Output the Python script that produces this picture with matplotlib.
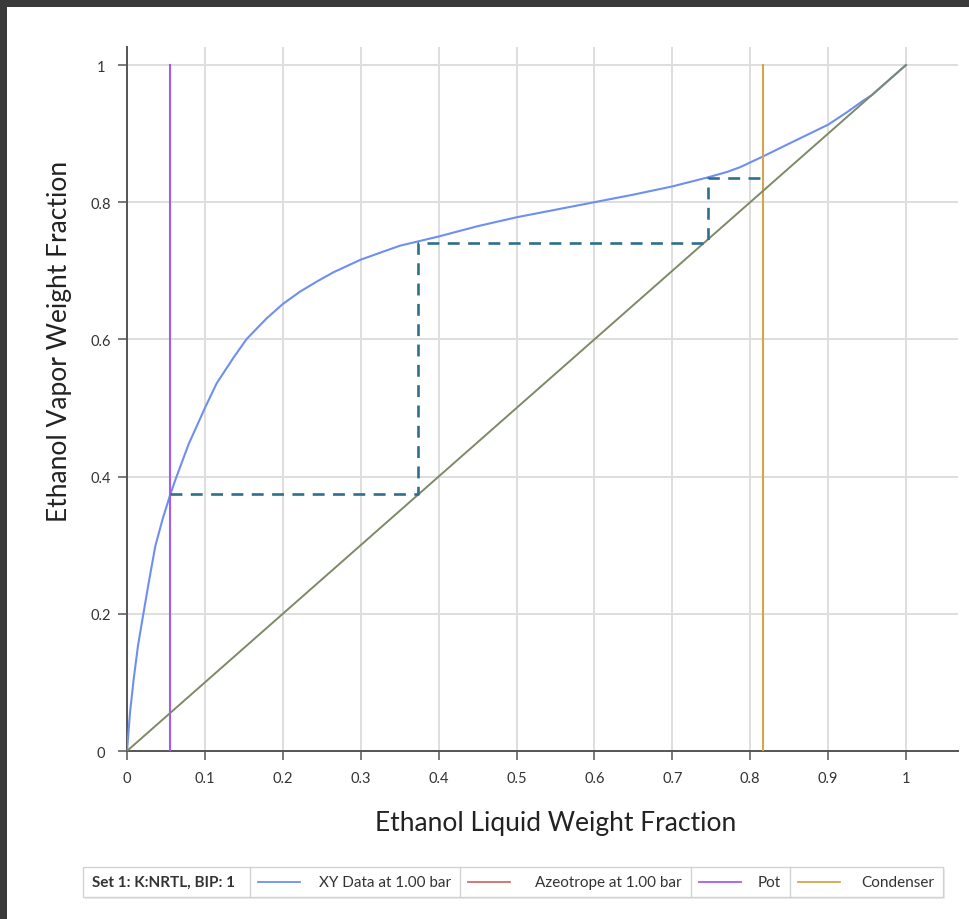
import matplotlib
matplotlib.use("Agg")
import matplotlib.pyplot as plt
from matplotlib.patches import Rectangle
from matplotlib.lines import Line2D

# ---- data ----
liquid_x = [0.0, 0.0039, 0.0086, 0.0141, 0.021, 0.0287, 0.0364, 0.0462, 0.0556,
            0.062, 0.079, 0.1, 0.1151, 0.1365, 0.1536, 0.1793, 0.2, 0.2221, 0.2435,
            0.2649, 0.3, 0.329, 0.3505, 0.4, 0.45, 0.5, 0.55, 0.6, 0.65, 0.7, 0.745,
            0.77, 0.787, 0.817, 0.851, 0.9, 0.924, 0.945, 0.956, 1.0]
vapor_y = [0.0, 0.0564, 0.105, 0.1535, 0.2, 0.2507, 0.299, 0.340, 0.374,
           0.395, 0.447, 0.500, 0.536, 0.573, 0.6006, 0.6307, 0.6516, 0.6696, 0.6842,
           0.6978, 0.7162, 0.728, 0.7366, 0.750, 0.765, 0.778, 0.789, 0.800, 0.811, 0.823, 0.836,
           0.844, 0.851, 0.867, 0.886, 0.913, 0.931, 0.948, 0.956, 1.0]
diag_x = [0.0, 1.0]
diag_y = [0.0, 1.0]
pot_x = 0.0555
condenser_x = 0.817
stair_x = [0.0555, 0.374, 0.374, 0.746, 0.746, 0.817]
stair_y = [0.374, 0.374, 0.741, 0.741, 0.835, 0.835]
xticks = [0, 0.1, 0.2, 0.3, 0.4, 0.5, 0.6, 0.7, 0.8, 0.9, 1.0]
xtick_labels = ["0", "0.1", "0.2", "0.3", "0.4", "0.5", "0.6", "0.7", "0.8", "0.9", "1"]
yticks = [0, 0.2, 0.4, 0.6, 0.8, 1.0]
ytick_labels = ["0", "0.2", "0.4", "0.6", "0.8", "1"]
legend_title = "Set 1: K:NRTL, BIP: 1"
legend_labels = ["XY Data at 1.00 bar", "Azeotrope at 1.00 bar", "Pot", "Condenser"]

# ---- colours ----
c_curve = "#6f8ff0"
c_diag = "#7d8a68"
c_pot = "#a45cf0"
c_cond = "#d4a64c"
c_azeo = "#d46a6a"
c_stair = "#2f6f8c"
c_grid = "#dedede"
c_spine = "#555555"
c_text = "#333333"

plt.rcParams['font.family'] = ['Lato', 'DejaVu Sans']

W, H = 969, 920
fig = plt.figure(figsize=(W / 100, H / 100), dpi=100)
fig.patch.set_facecolor("#3a3a3a")
fig.patches.append(Rectangle((7 / W, 0), 1, 1 - 8 / H, transform=fig.transFigure,
                             facecolor="white", edgecolor="none", zorder=-10))

def fx(px):
    return px / W

def fy(py):
    return 1 - py / H

ax_l, ax_r, ax_t, ax_b = 127, 958, 48, 752
ax = fig.add_axes([fx(ax_l), fy(ax_b), (ax_r - ax_l) / W, (ax_b - ax_t) / H])
ax.set_facecolor("none")
ax.set_xlim(0, (ax_r - ax_l) / 779)
ax.set_ylim(0, (ax_b - ax_t) / 686)

ax.grid(True, color=c_grid, linewidth=1.4, zorder=0)
ax.set_axisbelow(True)
for s in ["top", "right"]:
    ax.spines[s].set_visible(False)
for s in ["left", "bottom"]:
    ax.spines[s].set_color(c_spine)
    ax.spines[s].set_linewidth(1.4)

ax.set_xticks(xticks)
ax.set_xticklabels(xtick_labels)
ax.set_yticks(yticks)
ax.set_yticklabels(ytick_labels)
ax.tick_params(axis="both", direction="out", length=6.5, width=1.1, color=c_spine,
               labelsize=10.5, labelcolor=c_text)
ax.tick_params(axis="x", pad=8)
ax.tick_params(axis="y", pad=12.5)
for lab in ax.get_yticklabels():
    lab.set_horizontalalignment("center")

ax.plot(liquid_x, vapor_y, color=c_curve, linewidth=1.5, zorder=3,
        solid_joinstyle="round", solid_capstyle="round")
ax.plot(diag_x, diag_y, color=c_diag, linewidth=1.4, zorder=4)
ax.plot([pot_x, pot_x], [0, 1], color=c_pot, linewidth=1.5, zorder=3)
ax.plot([condenser_x, condenser_x], [0, 1], color=c_cond, linewidth=1.5, zorder=3)
ax.plot(stair_x, stair_y, color=c_stair, linewidth=1.9, linestyle=(0, (4.5, 3.2)), zorder=5)

fig.text(fx(556), fy(824), "Ethanol Liquid Weight Fraction", ha="center", va="center",
         fontsize=19, color="#222222")
fig.text(fx(60), fy(341), "Ethanol Vapor Weight Fraction", ha="center", va="center",
         rotation=90, fontsize=19, color="#222222")

# ---- legend table ----
box_l, box_r, box_t, box_b = 83, 943, 868, 898
seps = [250, 460, 691, 790]
fig.patches.append(Rectangle((fx(box_l) + 1.5 / W, fy(box_b) - 1.5 / H),
                             (box_r - box_l) / W, (box_b - box_t) / H,
                             transform=fig.transFigure, facecolor="#ececec",
                             edgecolor="none", zorder=1))
fig.patches.append(Rectangle((fx(box_l), fy(box_b)), (box_r - box_l) / W, (box_b - box_t) / H,
                             transform=fig.transFigure, facecolor="white",
                             edgecolor="#d2d2d2", linewidth=1.0, zorder=2))
for s in seps:
    fig.lines.append(Line2D([fx(s), fx(s)], [fy(box_t), fy(box_b)], transform=fig.transFigure,
                            color="#d2d2d2", linewidth=1.0, zorder=3))
cy = fy(883)
fig.text(fx(92), cy, legend_title, ha="left", va="center", fontsize=11,
         fontweight="bold", color=c_text, zorder=4)
cells = [(seps[0], seps[1]), (seps[1], seps[2]), (seps[2], seps[3]), (seps[3], box_r)]
colors = [c_curve, c_azeo, c_pot, c_cond]
for (a, b), lab, col in zip(cells, legend_labels, colors):
    fig.lines.append(Line2D([fx(a + 8), fx(a + 50)], [cy, cy], transform=fig.transFigure,
                            color=col, linewidth=1.3, zorder=4))
    fig.text(fx(b - 9), cy, lab, ha="right", va="center", fontsize=11, color=c_text, zorder=4)

fig.savefig("out.png", dpi=100, facecolor=fig.get_facecolor())
